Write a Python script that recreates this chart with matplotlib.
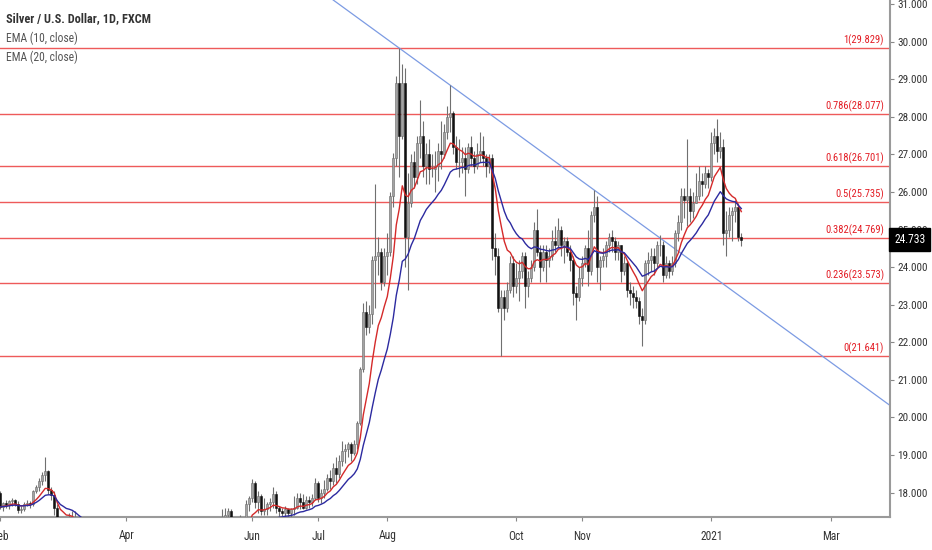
import numpy as np
import pandas as pd
import matplotlib
matplotlib.use("Agg")
import matplotlib.pyplot as plt
import matplotlib.font_manager as fm
import matplotlib.transforms as mtransforms

# ---------------- data ----------------
start_date = "2020-02-03"
end_date = "2021-03-31"
missing_days = ["2020-04-10", "2020-12-25", "2021-01-01"]

opens = [
 # Feb 2020
 17.98,17.62,17.71,17.68,17.78,17.80,17.70,17.53,17.57,17.70,17.73,17.70,18.05,18.14,18.30,18.48,18.58,18.06,17.93,17.60,
 # Mar
 16.60,16.75,17.15,17.05,17.35,17.25,16.95,16.75,16.75,15.60,14.80,13.00,12.70,12.05,12.50,12.55,12.80,14.20,14.40,14.50,14.40,14.10,
 # Apr
 13.95,13.95,14.40,14.35,15.00,15.20,15.25,15.70,15.50,15.60,15.25,15.50,15.20,15.10,14.70,15.10,15.20,15.30,15.10,15.25,15.30,
 # May
 14.95,14.95,14.95,15.00,14.85,15.15,15.55,15.50,15.75,15.95,16.45,17.00,17.35,17.40,17.50,17.00,17.10,17.05,17.20,17.25,17.70,
 # Jun
 17.85,18.25,17.75,17.90,17.50,17.55,17.70,17.75,17.95,17.60,17.50,17.45,17.55,17.45,17.55,17.60,17.85,17.75,17.60,17.80,17.75,17.85,
 # Jul
 18.25,17.85,18.00,18.10,18.40,18.30,18.65,18.50,18.85,19.10,19.15,19.30,19.05,19.30,19.85,21.30,22.80,22.40,22.75,24.20,24.30,24.40,23.60,
 # Aug
 24.30,24.40,25.90,26.90,28.90,27.50,28.90,24.80,25.70,26.80,26.40,27.30,27.50,26.70,27.00,26.60,26.60,26.70,27.10,27.00,27.60,
 # Sep
 28.00,28.10,27.20,26.80,26.80,26.90,26.60,27.20,26.90,26.70,27.00,27.10,26.90,26.70,26.90,24.50,24.30,22.90,23.20,22.90,23.40,24.10,
 # Oct
 23.50,23.70,23.90,24.30,23.50,23.70,24.00,25.00,24.40,24.00,24.40,24.20,24.30,24.70,24.60,25.00,24.60,24.70,24.40,24.20,23.30,23.20,
 # Nov
 23.70,24.10,24.50,23.90,25.40,25.60,24.00,24.20,24.30,24.60,24.80,24.70,24.40,24.60,23.90,24.10,23.40,23.30,23.20,23.10,22.70,
 # Dec
 22.60,24.10,24.20,24.30,24.10,24.60,24.60,23.80,24.10,23.90,24.10,24.90,25.20,25.90,25.80,25.90,25.50,25.70,25.90,26.30,26.20,26.50,
 # Jan 2021
 26.40,27.30,27.50,27.10,27.20,24.90,25.00,25.40,25.50,25.60,24.80,
]
highs = [
 18.05,17.75,17.80,17.80,17.85,17.83,17.78,17.65,17.75,17.80,17.78,18.08,18.20,18.40,18.55,18.95,18.60,18.15,18.05,17.70,
 16.90,17.30,17.25,17.45,17.50,17.50,17.00,16.90,16.80,15.70,14.90,13.20,12.80,12.70,12.90,13.10,14.40,14.70,14.80,14.70,14.40,14.30,
 14.10,14.50,14.50,15.00,15.40,15.40,15.80,15.90,15.75,15.70,15.60,15.60,15.30,15.10,15.20,15.30,15.40,15.40,15.30,15.40,15.30,
 15.10,15.10,15.10,15.10,15.20,15.60,15.80,15.80,16.00,16.50,17.10,17.55,17.60,17.60,17.55,17.20,17.25,17.40,17.30,17.80,17.90,
 18.36,18.30,18.05,17.95,17.85,17.75,17.85,18.15,18.05,17.65,17.60,17.65,17.60,17.60,17.90,18.00,18.00,17.95,17.90,17.90,17.95,18.40,
 18.30,18.10,18.34,18.50,18.60,18.78,18.95,19.00,19.36,19.30,19.35,19.35,19.40,19.90,21.35,23.05,23.10,23.00,24.30,26.20,24.80,24.50,24.50,
 24.90,26.00,27.05,29.10,29.829,29.40,29.30,26.50,27.00,27.10,27.50,28.45,27.90,27.30,27.40,27.00,27.10,27.30,27.90,27.80,28.30,
 28.84,28.15,27.50,27.40,27.20,27.20,27.30,27.50,27.10,27.30,27.60,27.50,27.00,27.00,27.00,24.90,24.50,23.40,23.40,23.60,24.30,24.30,
 24.10,24.20,24.40,24.40,23.90,24.20,25.20,25.55,24.60,24.60,24.60,24.50,25.00,25.10,25.30,25.10,24.80,24.80,24.60,24.30,23.50,24.00,
 24.30,24.60,25.00,25.50,26.05,25.90,24.30,24.50,24.70,24.90,25.00,24.80,24.70,24.60,24.30,24.20,23.60,23.50,23.40,23.20,22.90,
 24.20,24.40,24.50,24.50,24.70,24.85,24.70,24.30,24.20,24.30,25.00,25.40,26.10,26.10,27.40,26.10,26.00,26.50,26.70,26.50,26.70,26.60,
 27.60,27.70,27.93,27.60,27.40,25.50,25.60,25.60,25.80,25.70,24.90,
]
lows = [
 17.55,17.50,17.60,17.55,17.65,17.65,17.45,17.45,17.50,17.65,17.60,17.65,17.98,18.05,18.20,18.30,17.95,17.80,17.40,16.40,
 16.40,16.65,16.95,17.00,17.00,16.70,16.60,16.60,15.40,14.60,12.90,12.40,11.70,11.90,12.20,12.20,12.70,14.00,14.20,14.30,13.90,13.90,
 13.60,13.80,14.10,14.30,14.90,15.00,15.20,15.30,15.40,15.20,15.10,15.00,14.70,14.60,14.70,15.00,15.10,15.00,15.00,15.10,14.90,
 14.80,14.80,14.90,14.80,14.80,15.10,15.40,15.40,15.60,15.85,16.40,16.80,17.10,17.20,16.90,16.90,17.00,16.95,16.90,17.20,17.50,
 17.75,17.60,17.45,17.40,17.40,17.40,17.50,17.60,17.45,17.35,17.20,17.30,17.30,17.35,17.40,17.55,17.55,17.55,17.55,17.60,17.65,17.80,
 17.75,17.72,17.85,18.05,18.10,18.20,18.25,18.40,18.70,18.80,18.95,18.85,19.00,19.15,19.80,21.20,22.20,22.25,22.50,22.90,23.80,23.40,23.50,
 23.80,24.30,25.60,26.70,26.40,27.40,24.00,23.40,25.60,26.10,26.20,26.90,26.40,26.20,26.20,26.40,26.00,26.30,26.60,26.90,27.40,
 27.60,27.00,26.60,26.40,26.50,25.90,26.50,26.70,26.50,26.60,26.80,26.70,26.40,26.50,24.20,23.80,22.80,21.641,22.60,22.80,23.30,23.20,
 23.30,23.10,23.70,22.90,23.20,23.60,23.90,24.30,23.60,23.90,23.60,24.00,24.20,24.40,24.50,24.30,24.10,24.30,23.90,23.00,22.60,23.10,
 23.50,24.00,23.50,23.80,25.20,23.60,23.40,24.00,24.00,24.40,24.40,24.20,24.20,23.60,23.80,23.20,23.00,22.90,22.90,22.50,21.90,
 22.50,23.80,23.90,23.80,24.00,24.30,23.60,23.70,23.70,23.80,24.00,24.70,25.00,25.30,25.10,25.20,25.30,25.70,25.80,25.90,26.10,26.10,
 26.30,27.00,26.80,26.90,24.60,24.30,24.80,24.70,25.20,24.70,24.55,
]
closes = [
 17.62,17.71,17.68,17.78,17.80,17.70,17.53,17.57,17.70,17.73,17.70,18.05,18.14,18.30,18.48,18.58,18.06,17.93,17.60,16.60,
 16.75,17.15,17.05,17.35,17.25,16.95,16.75,16.75,15.60,14.80,13.00,12.70,12.05,12.50,12.55,12.80,14.20,14.40,14.50,14.40,14.10,13.95,
 13.95,14.40,14.35,15.00,15.20,15.25,15.70,15.50,15.60,15.25,15.50,15.20,15.10,14.70,15.10,15.20,15.30,15.10,15.25,15.30,14.95,
 14.95,14.95,15.00,14.85,15.15,15.55,15.50,15.75,15.95,16.45,17.00,17.35,17.40,17.50,17.00,17.10,17.05,17.20,17.25,17.70,17.85,
 18.25,17.75,17.90,17.50,17.55,17.70,17.75,17.95,17.60,17.50,17.45,17.55,17.45,17.55,17.60,17.85,17.75,17.60,17.80,17.75,17.85,18.25,
 17.85,18.00,18.10,18.40,18.30,18.65,18.50,18.85,19.10,19.15,19.30,19.05,19.30,19.85,21.30,22.80,22.40,22.75,24.20,24.30,24.40,23.60,24.30,
 24.40,25.90,26.90,28.90,27.50,28.90,24.80,25.70,26.80,26.40,27.30,27.50,26.70,27.00,26.60,26.60,26.70,27.10,27.00,27.60,28.00,
 28.10,27.20,26.80,26.80,26.90,26.60,27.20,26.90,26.70,27.00,27.10,26.90,26.70,26.90,24.50,24.30,22.90,23.20,22.90,23.40,24.10,23.50,
 23.70,23.90,24.30,23.50,23.70,24.00,25.00,24.40,24.00,24.40,24.20,24.30,24.70,24.60,25.00,24.60,24.70,24.40,24.20,23.30,23.20,23.70,
 24.10,24.50,23.90,25.40,25.60,24.00,24.20,24.30,24.60,24.80,24.70,24.40,24.60,23.90,24.10,23.40,23.30,23.20,23.10,22.70,22.60,
 24.10,24.20,24.30,24.10,24.60,24.60,23.80,24.10,23.90,24.10,24.90,25.20,25.90,25.80,25.90,25.50,25.70,25.90,26.30,26.20,26.50,26.40,
 27.30,27.50,27.10,27.20,24.90,25.00,25.40,25.50,25.60,24.80,24.733,
]

ema_periods = [10, 20]
fib_ratios = [1, 0.786, 0.618, 0.5, 0.382, 0.236, 0]
trend_anchor_dates = ["2020-08-07", "2020-11-06"]

month_tick_keys = ["2020-02", "2020-04", "2020-06", "2020-07", "2020-08",
                   "2020-10", "2020-11", "2021-01", "2021-03"]
month_tick_labels = ["Feb", "Apr", "Jun", "Jul", "Aug", "Oct", "Nov", "2021", "Mar"]
price_ticks = list(range(18, 32))

title_text = "Silver / U.S. Dollar, 1D, FXCM"
legend_texts = ["EMA (10, close)", "EMA (20, close)"]

# ---------------- font choice (narrow if available) ----------------
entries = [(f.name, str(f.stretch)) for f in fm.fontManager.ttflist]
names = {e[0] for e in entries}
stretch = "normal"
if "Liberation Sans Narrow" in names:
    fam = "Liberation Sans Narrow"; scale = 1.0
elif "Roboto Condensed" in names:
    fam = "Roboto Condensed"; scale = 1.0
elif any(nm == "DejaVu Sans" and st in ("condensed", "semi-condensed") for nm, st in entries):
    fam = "DejaVu Sans"; stretch = "condensed"; scale = 0.92
else:
    fam = "Roboto"; scale = 0.86
plt.rcParams["font.family"] = [fam, "DejaVu Sans"]
plt.rcParams["font.stretch"] = stretch

fs_tick = 8.0 * scale
fs_fib = 7.6 * scale
fs_title = 8.8 * scale
fs_leg = 8.4 * scale

# ---------------- prep ----------------
dates = pd.bdate_range(start_date, end_date)
dates = dates[~dates.isin(pd.to_datetime(missing_days))]
n = len(closes)
df = pd.DataFrame({"open": opens, "high": highs, "low": lows, "close": closes},
                  index=dates[:n])
o = df["open"].values; h = df["high"].values; l = df["low"].values; c = df["close"].values
x = np.arange(n)

W, H = 932, 550
fig = plt.figure(figsize=(W / 100, H / 100), dpi=100)
ax = fig.add_axes([0, 33 / H, 890 / W, 517 / H])
ax.set_facecolor("white")

# fib levels
fib_high = df["high"].max()
fib_low = df.loc["2020-08-01":, "low"].min()
fib_color_line = "#ee5a5a"
fib_color_text = "#e31b23"
for r in fib_ratios:
    lvl = fib_low + r * (fib_high - fib_low)
    ax.axhline(lvl, color=fib_color_line, lw=1.0, zorder=2)
    ax.annotate(f"{r:g}({lvl:.3f})", xy=(884 / 890, lvl),
                xycoords=("axes fraction", "data"), xytext=(0, 1.5),
                textcoords="offset points", ha="right", va="bottom",
                color=fib_color_text, fontsize=fs_fib, zorder=6)

# trend line through two highs
ta = [dates.get_loc(pd.Timestamp(d)) for d in trend_anchor_dates]
ax.axline((ta[0], h[ta[0]]), (ta[1], h[ta[1]]), color="#7c9be3", lw=0.9, zorder=2)

# candles
up = c >= o
ax.vlines(x, l, h, color="#707070", lw=0.8, zorder=3)
ax.bar(x[up], (c - o)[up], bottom=o[up], width=0.6, color="#a3a3a3",
       edgecolor="#6a6a6a", linewidth=0.4, zorder=4)
ax.bar(x[~up], (o - c)[~up], bottom=c[~up], width=0.6, color="#111111",
       edgecolor="#111111", linewidth=0.4, zorder=4)

# EMAs
ema_colors = ["#d42a2a", "#2c2aa0"]
for p, col in zip(ema_periods, ema_colors):
    ema = df["close"].ewm(span=p, adjust=False).mean()
    ax.plot(x, ema.values, color=col, lw=1.0, zorder=5)

# axes styling
ax.set_xlim(-0.1, 296.57)
ax.set_ylim(17.35, 31.11)
for s in ["top", "left"]:
    ax.spines[s].set_visible(False)
for s in ["right", "bottom"]:
    ax.spines[s].set_color("#9a9a9a")
    ax.spines[s].set_linewidth(1.5)

ax.yaxis.tick_right()
ax.set_yticks(price_ticks)
ax.set_yticklabels([f"{v:.3f}" for v in price_ticks])
ax.tick_params(axis="y", length=3, width=0.8, color="#888888", pad=2.5,
               labelsize=fs_tick, labelcolor="#333333")

month_pos = []
for k in month_tick_keys:
    month_pos.append(int(np.argmax(dates.strftime("%Y-%m") == k)))
ax.set_xticks(month_pos)
ax.set_xticklabels(month_tick_labels)
ax.tick_params(axis="x", length=3, width=0.8, color="#888888", pad=6,
               labelsize=fs_tick + 0.3, labelcolor="#333333")

# last price box
last = c[-1]
trans = mtransforms.blended_transform_factory(ax.transAxes, ax.transData)
ax.text(1.0045, last, f"{last:.3f}", transform=trans, ha="left", va="center",
        color="white", fontsize=fs_tick + 0.3, zorder=10, clip_on=False,
        bbox=dict(boxstyle="square,pad=0.45", fc="black", ec="black"))

# header texts
fig.text(6 / W, 1 - 19 / H, title_text, ha="left", va="center",
         fontsize=fs_title, fontweight="bold", color="#333333")
for i, t in enumerate(legend_texts):
    fig.text(6 / W, 1 - (38 + 19 * i) / H, t, ha="left", va="center",
             fontsize=fs_leg, color="#555555")

fig.savefig("out.png", dpi=100, facecolor="white")
